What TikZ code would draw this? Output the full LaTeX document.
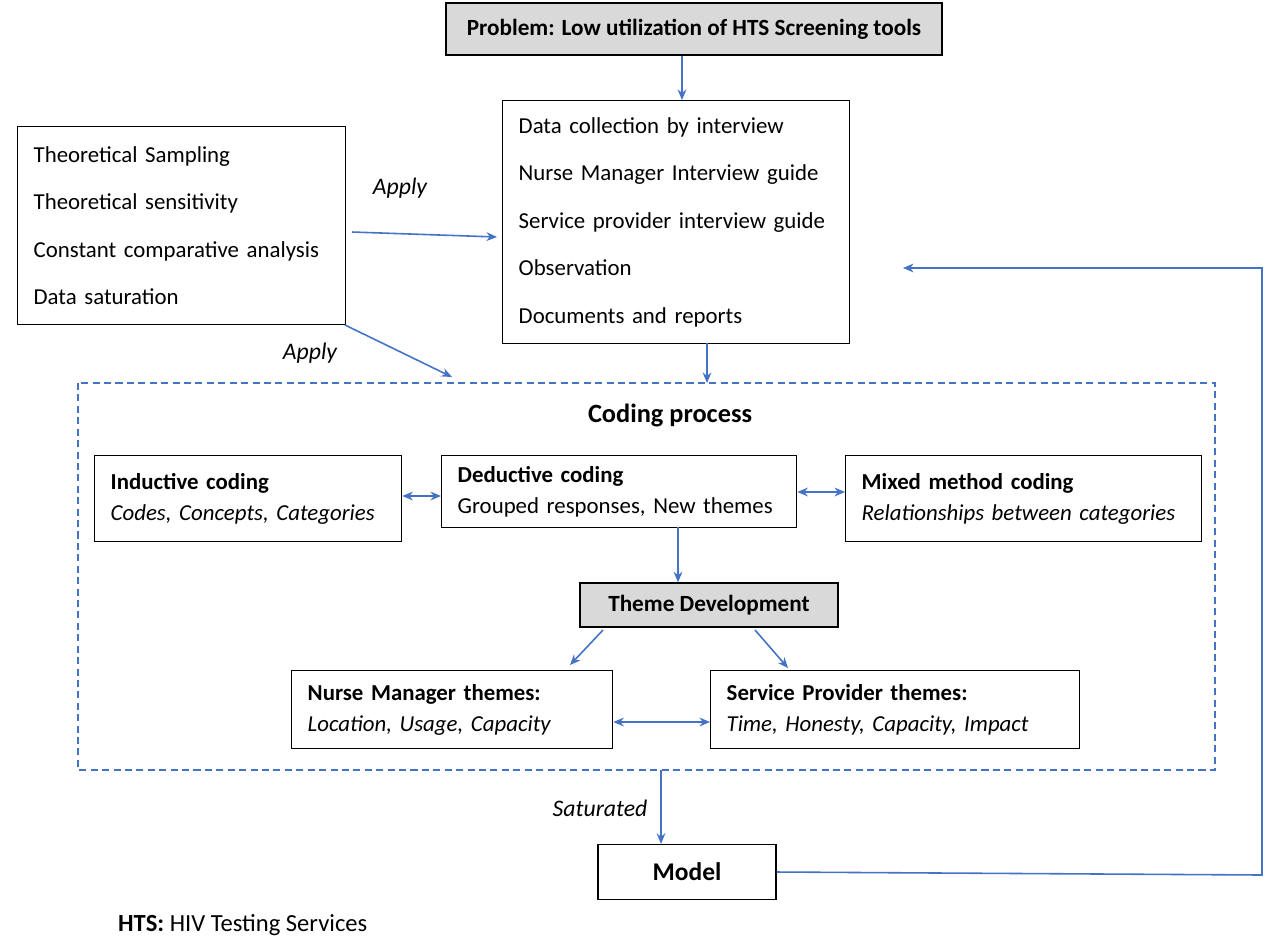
\documentclass[tikz,border=0pt]{standalone}
\usepackage{fontspec}
\setmainfont{Carlito}
\usetikzlibrary{arrows.meta,positioning}
\definecolor{arrowblue}{RGB}{68,114,196}
\definecolor{boxgray}{RGB}{217,217,217}
\begin{document}
\begin{tikzpicture}
[x=0.02cm,y=-0.02cm,
  boxDecorate/.style={draw,line width=0.8pt,anchor=north west,align=left,
    inner xsep=0.32cm,inner ysep=0pt},
  grayDecorate/.style={draw,line width=0.8pt,fill=boxgray,inner sep=0pt,
    font=\fontsize{13.2}{15}\selectfont\bfseries},
  arrowDecorate/.style={-{Stealth[length=6pt,width=5pt]},draw=arrowblue,line width=0.9pt},
  twoArrow/.style={{Stealth[length=6pt,width=5pt]}-{Stealth[length=6pt,width=5pt]},draw=arrowblue,line width=0.9pt},
  listFont/.style={font=\fontsize{13}{27}\selectfont},
  pairFont/.style={font=\fontsize{13}{17.5}\selectfont}]
\useasboundingbox (0,0) rectangle (1280,944);
%% boxes
\node (problem) at (694,29) [grayDecorate,minimum width=9.92cm,minimum height=1.04cm]
  {Problem: Low utilization of HTS Screening tools};
\node (data) at (502,100) [boxDecorate,listFont,text width=6.3cm,minimum height=4.86cm]
  {Data collection by interview\\Nurse Manager Interview guide\\Service provider interview guide\\Observation\\Documents and reports};
\node (theory) at (17,126) [boxDecorate,listFont,text width=5.92cm,minimum height=3.96cm]
  {Theoretical Sampling\\Theoretical sensitivity\\Constant comparative analysis\\Data saturation};
\draw[arrowblue,dash pattern=on 4pt off 2.5pt,line width=0.8pt] (78,383) rectangle (1215,770);
\node (coding) at (670,415) [font=\fontsize{15}{17}\selectfont\bfseries] {Coding process};
\node (inductive) at (94,455) [boxDecorate,pairFont,text width=5.5cm,minimum height=1.72cm]
  {\textbf{Inductive coding}\\\textit{Codes, Concepts, Categories}};
\node (deductive) at (441,455) [boxDecorate,pairFont,text width=6.46cm,minimum height=1.44cm]
  {\textbf{Deductive coding}\\Grouped responses, New themes};
\node (mixed) at (845,455) [boxDecorate,pairFont,text width=6.48cm,minimum height=1.72cm]
  {\textbf{Mixed method coding}\\\textit{Relationships between categories}};
\node (theme) at (709,605) [grayDecorate,minimum width=5.16cm,minimum height=0.88cm]
  {Theme Development};
\node (nurse) at (291,670) [boxDecorate,pairFont,text width=5.78cm,minimum height=1.56cm]
  {\textbf{Nurse Manager themes:}\\\textit{Location, Usage, Capacity}};
\node (provider) at (710,670) [boxDecorate,pairFont,text width=6.74cm,minimum height=1.56cm]
  {\textbf{Service Provider themes:}\\\textit{Time, Honesty, Capacity, Impact}};
\node (model) at (687,872) [draw,line width=0.8pt,minimum width=3.56cm,minimum height=1.1cm,
  font=\fontsize{14.5}{16}\selectfont\bfseries] {Model};
%% labels
\node (apply1) at (400,188) [font=\fontsize{13.5}{15}\selectfont\itshape] {Apply};
\node (apply2) at (310,353) [font=\fontsize{13.5}{15}\selectfont\itshape] {Apply};
\node (saturated) at (600,808) [font=\fontsize{13.5}{15}\selectfont\itshape] {Saturated};
\node (note) at (112,925) [anchor=west,font=\fontsize{14}{16}\selectfont] {\textbf{HTS:} HIV Testing Services};
%% connectors
\coordinate (a1) at (352,232); \coordinate (a1e) at (497,237);
\coordinate (a2) at (345,325); \coordinate (a2e) at (452,377);
\coordinate (c1) at (1262,875); \coordinate (c2) at (1262,268); \coordinate (c3) at (903,268);
\draw[arrowDecorate] (problem.south -| 682,0) -- (682,100);
\draw[arrowDecorate] (a1) -- (a1e);
\draw[arrowDecorate] (a2) -- (a2e);
\draw[arrowDecorate] (707,343) -- (707,383);
\draw[twoArrow] (inductive.east |- 0,496) -- (deductive.west |- 0,496);
\draw[twoArrow] (deductive.east |- 0,492) -- (mixed.west |- 0,492);
\draw[arrowDecorate] (678,527) -- (theme.north -| 678,0);
\draw[arrowDecorate] (603,630) -- (570,665);
\draw[arrowDecorate] (755,630) -- (788,668);
\draw[twoArrow] (nurse.east |- 0,722) -- (provider.west |- 0,722);
\draw[arrowDecorate] (661,770) -- (model.north -| 661,0);
\draw[arrowDecorate] (model.east) -- (c1) -- (c2) -- (c3);
\end{tikzpicture}
\end{document}
